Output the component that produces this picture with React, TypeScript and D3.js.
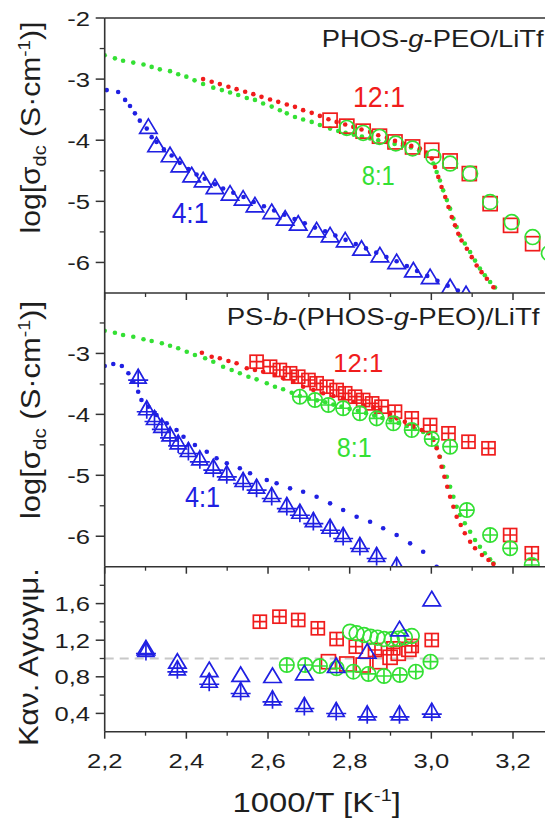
import React from 'react';
import * as d3 from 'd3';

type P = [number, number];

// ---------- tick values / labels ----------
const xMajor = [2.2, 2.4, 2.6, 2.8, 3.0, 3.2];
const xMajorLabels = ['2,2', '2,4', '2,6', '2,8', '3,0', '3,2'];
const xMinor = [2.3, 2.5, 2.7, 2.9, 3.1];
const topMajor = [-2, -3, -4, -5, -6];
const topMajorLabels = ['-2', '-3', '-4', '-5', '-6'];
const midMajor = [-3, -4, -5, -6];
const midMajorLabels = ['-3', '-4', '-5', '-6'];
const logMinor = [-2.5, -3.5, -4.5, -5.5];
const botMajor = [0.4, 0.8, 1.2, 1.6];
const botMajorLabels = ['0,4', '0,8', '1,2', '1,6'];
const botMinor = [0.6, 1.0, 1.4, 1.8];

// ---------- top panel: PHOS-g-PEO/LiTf ----------
const phos12Dots: P[] = [
  [2.441, -3.0], [2.462, -3.044], [2.482, -3.082], [2.503, -3.126], [2.523, -3.164], [2.544, -3.208],
  [2.564, -3.246], [2.584, -3.29], [2.605, -3.333], [2.625, -3.372], [2.646, -3.415], [2.666, -3.454],
  [2.686, -3.508], [2.707, -3.552], [2.727, -3.602], [2.748, -3.656], [2.768, -3.70], [2.789, -3.743],
  [2.809, -3.782], [2.829, -3.825], [2.85, -3.864], [2.87, -3.918], [2.891, -3.962], [2.911, -4.011],
  [2.931, -4.054], [2.951, -4.093], [2.972, -4.136], [2.988, -4.2], [3.001, -4.30], [3.009, -4.437],
  [3.017, -4.60], [3.025, -4.766], [3.034, -4.93], [3.042, -5.093], [3.05, -5.257], [3.058, -5.393],
  [3.066, -5.53], [3.074, -5.64], [3.087, -5.775], [3.099, -5.913], [3.111, -6.049], [3.123, -6.159],
  [3.136, -6.267], [3.152, -6.405],
];
const phos8Dots: P[] = [
  [2.2, -2.61], [2.225, -2.66], [2.245, -2.70], [2.27, -2.73], [2.295, -2.76], [2.315, -2.80],
  [2.335, -2.84], [2.36, -2.87], [2.38, -2.92], [2.40, -2.96], [2.42, -3.02], [2.441, -3.08],
  [2.466, -3.14], [2.487, -3.18], [2.507, -3.22], [2.527, -3.26], [2.548, -3.31], [2.568, -3.34],
  [2.588, -3.40], [2.609, -3.45], [2.629, -3.51], [2.646, -3.56], [2.666, -3.62], [2.686, -3.66],
  [2.707, -3.70], [2.727, -3.75], [2.752, -3.81], [2.772, -3.85], [2.79, -3.88], [2.81, -3.91],
  [2.83, -3.94], [2.85, -3.97], [2.87, -4.0], [2.89, -4.03], [2.91, -4.06], [2.93, -4.09],
  [2.95, -4.12], [2.97, -4.17], [2.988, -4.24], [3.005, -4.38], [3.013, -4.52], [3.021, -4.66],
  [3.029, -4.82], [3.038, -4.98], [3.046, -5.12], [3.054, -5.28], [3.062, -5.42], [3.07, -5.56],
  [3.082, -5.69], [3.095, -5.83], [3.107, -5.97], [3.119, -6.10], [3.131, -6.21], [3.144, -6.32],
  [3.156, -6.41],
];
const phos4Dots: P[] = [
  [2.205, -3.18], [2.233, -3.21], [2.25, -3.34], [2.262, -3.44], [2.274, -3.56], [2.286, -3.68],
  [2.303, -3.81], [2.315, -3.95], [2.327, -4.03], [2.345, -4.15], [2.364, -4.25], [2.384, -4.37],
  [2.405, -4.47], [2.425, -4.56], [2.445, -4.63], [2.47, -4.72], [2.49, -4.79], [2.515, -4.86],
  [2.54, -4.93], [2.565, -5.01], [2.59, -5.08], [2.615, -5.15], [2.64, -5.22], [2.665, -5.29],
  [2.69, -5.36], [2.715, -5.43], [2.74, -5.49], [2.765, -5.56], [2.79, -5.63], [2.815, -5.70],
  [2.84, -5.77], [2.865, -5.84], [2.89, -5.91], [2.915, -5.98], [2.94, -6.06], [2.965, -6.14],
  [2.99, -6.22], [3.015, -6.30], [3.04, -6.38], [3.065, -6.46],
];
const phos12Squares: P[] = [
  [2.752, -3.672], [2.793, -3.77], [2.833, -3.852], [2.873, -3.934], [2.911, -4.028], [2.954, -4.11],
  [3.001, -4.164], [3.046, -4.339], [3.093, -4.546], [3.144, -5.038], [3.194, -5.393], [3.248, -5.693],
];
const phos8Circles: P[] = [
  [2.793, -3.798], [2.833, -3.88], [2.873, -3.946], [2.913, -4.054], [2.954, -4.136], [3.005, -4.274],
  [3.046, -4.382], [3.095, -4.546], [3.144, -5.011], [3.197, -5.339], [3.248, -5.585], [3.288, -5.85],
];
const phos4Triangles: P[] = [
  [2.307, -3.782], [2.327, -4.082], [2.36, -4.246], [2.384, -4.41], [2.413, -4.574], [2.441, -4.656],
  [2.47, -4.766], [2.507, -4.874], [2.539, -4.956], [2.568, -5.066], [2.609, -5.175], [2.642, -5.284],
  [2.674, -5.366], [2.719, -5.475], [2.752, -5.557], [2.789, -5.639], [2.829, -5.775], [2.874, -5.885],
  [2.915, -5.995], [2.956, -6.131], [2.997, -6.241], [3.046, -6.405], [3.085, -6.52],
];

// ---------- middle panel: PS-b-(PHOS-g-PEO)/LiTf ----------
const psb12Dots: P[] = [
  [2.438, -2.988], [2.462, -3.054], [2.482, -3.08], [2.503, -3.124], [2.523, -3.162], [2.548, -3.244],
  [2.568, -3.27], [2.588, -3.30], [2.617, -3.354], [2.637, -3.408], [2.662, -3.464], [2.686, -3.546],
  [2.711, -3.60], [2.735, -3.654], [2.76, -3.699], [2.784, -3.737], [2.809, -3.792], [2.833, -3.846],
  [2.858, -3.884], [2.874, -3.928], [2.899, -3.994], [2.915, -4.065], [2.935, -4.12], [2.956, -4.203],
  [2.976, -4.257], [2.993, -4.311], [3.005, -4.421], [3.013, -4.557], [3.02, -4.695], [3.025, -4.859],
  [3.032, -5.023], [3.039, -5.187], [3.046, -5.351], [3.054, -5.515], [3.062, -5.68], [3.072, -5.816],
  [3.082, -5.952], [3.095, -6.09], [3.107, -6.198], [3.124, -6.308], [3.14, -6.39], [3.152, -6.456],
];
const psb8Dots: P[] = [
  [2.2, -2.627], [2.225, -2.66], [2.245, -2.698], [2.27, -2.725], [2.295, -2.768], [2.315, -2.796],
  [2.34, -2.834], [2.36, -2.873], [2.38, -2.916], [2.401, -2.972], [2.421, -3.026], [2.446, -3.08],
  [2.466, -3.136], [2.49, -3.218], [2.511, -3.272], [2.531, -3.326], [2.552, -3.382], [2.572, -3.425],
  [2.597, -3.49], [2.617, -3.546], [2.637, -3.589], [2.658, -3.645], [2.678, -3.699], [2.70, -3.74],
  [2.72, -3.77], [2.74, -3.80], [2.76, -3.84], [2.78, -3.87], [2.80, -3.91], [2.82, -3.94],
  [2.84, -3.98], [2.86, -4.02], [2.88, -4.06], [2.90, -4.10], [2.92, -4.14], [2.94, -4.19],
  [2.96, -4.24], [2.98, -4.29], [3.005, -4.393], [3.013, -4.53], [3.021, -4.695], [3.029, -4.859],
  [3.038, -5.023], [3.046, -5.187], [3.054, -5.351], [3.062, -5.515], [3.07, -5.652], [3.082, -5.788],
  [3.095, -5.926], [3.107, -6.062], [3.119, -6.172], [3.131, -6.28], [3.144, -6.379], [3.152, -6.444],
];
const psb4Dots: P[] = [
  [2.2, -3.206], [2.221, -3.173], [2.242, -3.206], [2.258, -3.326], [2.27, -3.464], [2.282, -3.628],
  [2.29, -3.764], [2.307, -3.874], [2.327, -4.01], [2.352, -4.147], [2.376, -4.257], [2.393, -4.367],
  [2.421, -4.503], [2.45, -4.613], [2.474, -4.721], [2.499, -4.803], [2.531, -4.885], [2.556, -4.967],
  [2.597, -5.077], [2.621, -5.131], [2.654, -5.214], [2.686, -5.269], [2.719, -5.351], [2.752, -5.46],
  [2.784, -5.57], [2.817, -5.68], [2.85, -5.762], [2.882, -5.87], [2.915, -5.98], [2.948, -6.117],
  [2.98, -6.254], [3.013, -6.5],
];
const psb12Squares: P[] = [
  [2.572, -3.136], [2.605, -3.218], [2.629, -3.272], [2.654, -3.326], [2.674, -3.382], [2.699, -3.436],
  [2.719, -3.49], [2.744, -3.546], [2.768, -3.60], [2.789, -3.654], [2.813, -3.71], [2.833, -3.764],
  [2.855, -3.82], [2.878, -3.874], [2.911, -3.956], [2.952, -4.065], [2.997, -4.175], [3.042, -4.311],
  [3.091, -4.449], [3.14, -4.557], [3.193, -5.98], [3.246, -6.28],
];
const psb8Circles: P[] = [
  [2.678, -3.71], [2.715, -3.764], [2.748, -3.846], [2.784, -3.90], [2.825, -3.982], [2.866, -4.065],
  [2.907, -4.147], [2.952, -4.257], [3.001, -4.405], [3.046, -4.531], [3.087, -5.57], [3.144, -5.98],
  [3.193, -6.198], [3.246, -6.472],
];
const psb4Triangles: P[] = [
  [2.282, -3.382], [2.303, -3.90], [2.322, -4.06], [2.34, -4.19], [2.36, -4.33], [2.38, -4.46],
  [2.405, -4.585], [2.433, -4.721], [2.466, -4.859], [2.499, -4.967], [2.539, -5.077], [2.572, -5.187],
  [2.609, -5.323], [2.646, -5.488], [2.678, -5.598], [2.711, -5.734], [2.752, -5.844], [2.784, -5.98],
  [2.825, -6.144], [2.866, -6.308], [2.915, -6.472],
];

// ---------- bottom panel: normalized conductivity ----------
const normPsb12: P[] = [
  [2.58, 1.402], [2.628, 1.457], [2.674, 1.421], [2.722, 1.33], [2.768, 1.213], [2.815, 1.129],
  [2.862, 1.093], [2.907, 1.111], [2.952, 1.137], [3.001, 1.202],
];
const normPhos12: P[] = [
  [2.748, 0.965], [2.793, 0.94], [2.833, 0.929], [2.874, 0.965], [2.899, 1.013], [2.919, 1.057],
  [2.945, 1.10],
];
const normPhos8: P[] = [
  [2.801, 1.293], [2.817, 1.275], [2.835, 1.257], [2.851, 1.238], [2.868, 1.228], [2.884, 1.213],
  [2.903, 1.21], [2.919, 1.217], [2.935, 1.232], [2.952, 1.246],
];
const normPsb8: P[] = [
  [2.646, 0.929], [2.691, 0.929], [2.727, 0.918], [2.768, 0.893], [2.809, 0.856], [2.846, 0.831],
  [2.884, 0.809], [2.923, 0.82], [2.962, 0.856], [2.998, 0.965],
];
const normPhos4: P[] = [
  [2.301, 1.111], [2.378, 0.965], [2.456, 0.874], [2.533, 0.82], [2.611, 0.809], [2.689, 0.838],
  [2.767, 0.918], [2.843, 1.074], [2.922, 1.319], [3.001, 1.647],
];
const normPsb4: P[] = [
  [2.301, 1.093], [2.378, 0.893], [2.456, 0.757], [2.533, 0.656], [2.611, 0.565], [2.689, 0.492],
  [2.767, 0.437], [2.843, 0.401], [2.922, 0.401], [3.001, 0.43],
];

// ---------- scales / styling ----------
const RIGHT = 545;
const xS = d3.scaleLinear().domain([2.2, 3.2]).range([104.7, 513.0]);
const X0 = xS(2.2);
const yTop = d3.scaleLinear().domain([-6.5, -2]).range([293, 18]);
const yMid = d3.scaleLinear().domain([-6.5, -2]).range([566.7, 292.5]);
const yBot = d3.scaleLinear().domain([0.2, 2.0]).range([731.7, 567]);

const RED = '#f01c1c';
const GREEN = '#34e034';
const BLUE = '#2020e2';
const AXIS = '#333';
const TXT = '#1e1e1e';
const FONT = '"Liberation Sans", Arial, Helvetica, sans-serif';

type Shape = 'sq' | 'sqp' | 'ci' | 'cip' | 'tr' | 'trp';

function Glyph({ shape, color }: { shape: Shape; color: string }) {
  const common = { fill: 'none', stroke: color, strokeWidth: 1.7 };
  switch (shape) {
    case 'sq':
      return <rect x={-7} y={-7} width={14} height={14} {...common} />;
    case 'sqp':
      return (
        <g {...common}>
          <rect x={-6.5} y={-6.5} width={13} height={13} />
          <path d="M-6.5,0H6.5M0,-6.5V6.5" />
        </g>
      );
    case 'ci':
      return <circle r={7.4} {...common} />;
    case 'cip':
      return (
        <g {...common}>
          <circle r={7.2} />
          <path d="M-7.2,0H7.2M0,-7.2V7.2" />
        </g>
      );
    case 'tr':
      return <path d="M0,-8L8.7,6.5L-8.7,6.5Z" {...common} />;
    case 'trp':
      return (
        <g {...common}>
          <path d="M0,-7.5L8,6.5L-8,6.5Z" />
          <path d="M0,-7.5V10.5M-10,3.5H10" />
        </g>
      );
  }
  return null;
}

function Markers({ data, y, color, shape }: { data: P[]; y: d3.ScaleLinear<number, number>; color: string; shape: Shape }) {
  return (
    <g>
      {data.map(([a, b], i) => (
        <g key={i} transform={`translate(${xS(a)},${y(b)})`}>
          <Glyph shape={shape} color={color} />
        </g>
      ))}
    </g>
  );
}

function Dots({ data, y, color }: { data: P[]; y: d3.ScaleLinear<number, number>; color: string }) {
  return (
    <g fill={color}>
      {data.map(([a, b], i) => (
        <circle key={i} cx={xS(a)} cy={y(b)} r={2.3} />
      ))}
    </g>
  );
}

function LeftAxis({ y, major, labels, minor, top, bottom }: {
  y: d3.ScaleLinear<number, number>; major: number[]; labels: string[]; minor: number[]; top: number; bottom: number;
}) {
  return (
    <g>
      <line x1={X0} x2={X0} y1={top} y2={bottom} stroke={AXIS} strokeWidth={1.6} />
      {major.map((v, i) => (
        <g key={'M' + i}>
          <line x1={X0 - 9} x2={X0} y1={y(v)} y2={y(v)} stroke={AXIS} strokeWidth={1.5} />
          <text
            transform={`translate(90,${y(v) + 7.5}) scale(1.22,1)`}
            textAnchor="end"
            fontSize={21}
            fontFamily={FONT}
            fill={TXT}
          >
            {labels[i]}
          </text>
        </g>
      ))}
      {minor.map((v, i) => (
        <line key={'m' + i} x1={X0 - 5} x2={X0} y1={y(v)} y2={y(v)} stroke={AXIS} strokeWidth={1.3} />
      ))}
    </g>
  );
}

function BottomAxis({ yPos }: { yPos: number }) {
  return (
    <g>
      <line x1={X0} x2={RIGHT} y1={yPos} y2={yPos} stroke={AXIS} strokeWidth={1.6} />
      {xMajor.map((v, i) => (
        <line key={'M' + i} x1={xS(v)} x2={xS(v)} y1={yPos} y2={yPos + 7} stroke={AXIS} strokeWidth={1.5} />
      ))}
      {xMinor.map((v, i) => (
        <line key={'m' + i} x1={xS(v)} x2={xS(v)} y1={yPos} y2={yPos + 4} stroke={AXIS} strokeWidth={1.3} />
      ))}
    </g>
  );
}

function RatioLabel({ x, y, w, fs, color, text }: { x: number; y: number; w: number; fs: number; color: string; text: string }) {
  return (
    <text x={x} y={y} fontSize={fs} fontFamily={FONT} fill={color} textLength={w} lengthAdjust="spacingAndGlyphs">
      {text}
    </text>
  );
}

function YTitle({ cx, cy, len }: { cx: number; cy: number; len: number }) {
  const fs = 27;
  return (
    <text
      transform={`translate(${cx},${cy}) rotate(-90)`}
      textAnchor="middle"
      fontSize={fs}
      fontFamily={FONT}
      fill={TXT}
      textLength={len}
      lengthAdjust="spacingAndGlyphs"
    >
      log[σ
      <tspan fontSize={18} dy={6}>dc</tspan>
      <tspan dy={-6}> (S·cm</tspan>
      <tspan fontSize={17} dy={-10}>-1</tspan>
      <tspan dy={10}>)]</tspan>
    </text>
  );
}

export default function App() {
  return (
    <svg
      width={545}
      height={822}
      viewBox="0 0 545 822"
      style={{ position: 'absolute', left: 0, top: 0, background: '#fff' }}
    >
      <defs>
        <clipPath id="cTop"><rect x={X0} y={18} width={RIGHT - X0} height={293 - 18} /></clipPath>
        <clipPath id="cMid"><rect x={X0} y={292.5} width={RIGHT - X0} height={566.7 - 292.5} /></clipPath>
        <clipPath id="cBot"><rect x={X0} y={567} width={RIGHT - X0} height={731.7 - 567} /></clipPath>
      </defs>

      {/* ---------- top panel ---------- */}
      <g clipPath="url(#cTop)">
        <Dots data={phos8Dots} y={yTop} color={GREEN} />
        <Dots data={phos12Dots} y={yTop} color={RED} />
        <Dots data={phos4Dots} y={yTop} color={BLUE} />
        <Markers data={phos12Squares} y={yTop} color={RED} shape="sq" />
        <Markers data={phos8Circles} y={yTop} color={GREEN} shape="ci" />
        <Markers data={phos4Triangles} y={yTop} color={BLUE} shape="tr" />
      </g>
      <line x1={X0} x2={RIGHT} y1={18} y2={18} stroke={AXIS} strokeWidth={1.6} />
      <LeftAxis y={yTop} major={topMajor} labels={topMajorLabels} minor={logMinor} top={18} bottom={293} />
      <BottomAxis yPos={293} />
      <g transform="translate(321.7,46.5) scale(1.19,1)">
        <text fontSize={23} fontFamily={FONT} fill={TXT}>
          PHOS-<tspan fontStyle="italic">g</tspan>-PEO/LiTf
        </text>
      </g>
      <RatioLabel x={353} y={107} w={52} fs={29} color={RED} text="12:1" />
      <RatioLabel x={361.7} y={185} w={33} fs={28} color={GREEN} text="8:1" />
      <RatioLabel x={171.7} y={223} w={36.7} fs={29} color={BLUE} text="4:1" />

      {/* ---------- middle panel ---------- */}
      <g clipPath="url(#cMid)">
        <Dots data={psb8Dots} y={yMid} color={GREEN} />
        <Dots data={psb12Dots} y={yMid} color={RED} />
        <Dots data={psb4Dots} y={yMid} color={BLUE} />
        <Markers data={psb12Squares} y={yMid} color={RED} shape="sqp" />
        <Markers data={psb8Circles} y={yMid} color={GREEN} shape="cip" />
        <Markers data={psb4Triangles} y={yMid} color={BLUE} shape="trp" />
      </g>
      <LeftAxis y={yMid} major={midMajor} labels={midMajorLabels} minor={logMinor} top={292.5} bottom={566.7} />
      <BottomAxis yPos={566.7} />
      <g transform="translate(226.7,325) scale(1.2,1)">
        <text fontSize={23} fontFamily={FONT} fill={TXT}>
          PS-<tspan fontStyle="italic">b</tspan>-(PHOS-<tspan fontStyle="italic">g</tspan>-PEO)/LiTf
        </text>
      </g>
      <RatioLabel x={333.3} y={372} w={50} fs={26} color={RED} text="12:1" />
      <RatioLabel x={336.7} y={456.7} w={35} fs={28} color={GREEN} text="8:1" />
      <RatioLabel x={185} y={506.7} w={35} fs={29} color={BLUE} text="4:1" />

      {/* ---------- bottom panel ---------- */}
      <line x1={X0} x2={RIGHT} y1={yBot(1)} y2={yBot(1)} stroke="#c8c8c8" strokeWidth={2} strokeDasharray="9 6" />
      <g clipPath="url(#cBot)">
        <Markers data={normPsb12} y={yBot} color={RED} shape="sqp" />
        <Markers data={normPhos12} y={yBot} color={RED} shape="sq" />
        <Markers data={normPhos8} y={yBot} color={GREEN} shape="ci" />
        <Markers data={normPsb8} y={yBot} color={GREEN} shape="cip" />
        <Markers data={normPhos4} y={yBot} color={BLUE} shape="tr" />
        <Markers data={normPsb4} y={yBot} color={BLUE} shape="trp" />
      </g>
      <LeftAxis y={yBot} major={botMajor} labels={botMajorLabels} minor={botMinor} top={567} bottom={731.7} />
      <BottomAxis yPos={731.7} />
      {xMajor.map((v, i) => (
        <text
          key={i}
          transform={`translate(${xS(v)},768) scale(1.22,1)`}
          textAnchor="middle"
          fontSize={21}
          fontFamily={FONT}
          fill={TXT}
        >
          {xMajorLabels[i]}
        </text>
      ))}

      {/* ---------- axis titles ---------- */}
      <YTitle cx={40} cy={127.5} len={212} />
      <YTitle cx={40} cy={410} len={218} />
      <text
        transform="translate(38,657) rotate(-90)"
        textAnchor="middle"
        fontSize={27}
        fontFamily={FONT}
        fill={TXT}
        textLength={178}
        lengthAdjust="spacingAndGlyphs"
      >
        Καν. Αγωγιμ.
      </text>
      <g transform="translate(316.7,811.5) scale(1.17,1)">
        <text textAnchor="middle" fontSize={28} fontFamily={FONT} fill={TXT}>
          1000/T [K<tspan fontSize={17} dy={-11}>-1</tspan><tspan dy={11}>]</tspan>
        </text>
      </g>
    </svg>
  );
}
